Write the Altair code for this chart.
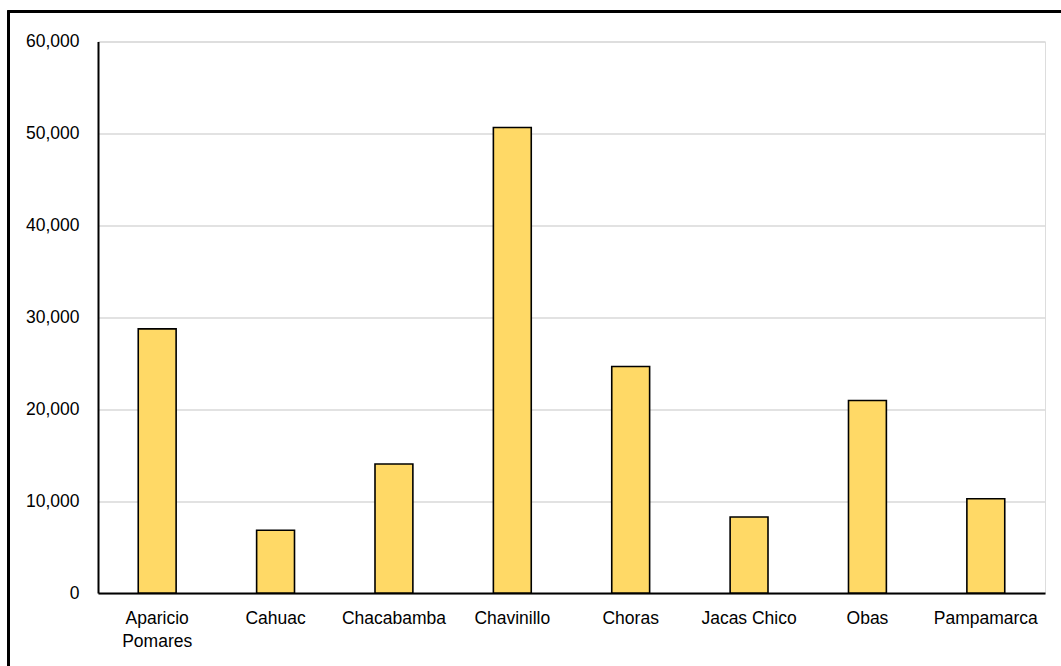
import altair as alt
import pandas as pd

# District populations
districts = ["Aparicio Pomares", "Cahuac", "Chacabamba", "Chavinillo",
             "Choras", "Jacas Chico", "Obas", "Pampamarca"]
population = [28740, 6820, 14030, 50650, 24640, 8270, 20940, 10250]

df = pd.DataFrame({"distrito": districts, "poblacion": population})

FONT = "Liberation Sans, Arial, sans-serif"

bars = alt.Chart(df).mark_bar(
    color="#FFD966", stroke="#000000", strokeWidth=1.6
).encode(
    x=alt.X("distrito:N", sort=districts, title=None,
            scale=alt.Scale(paddingInner=0.68, paddingOuter=0.34),
            axis=alt.Axis(labelAngle=0, ticks=False, domainColor="#000000",
                          domainWidth=2, labelPadding=16, labelFontSize=17.5,
                          labelLineHeight=23, labelFont=FONT, labelColor="#000000",
                          labelExpr="datum.value == 'Aparicio Pomares' ? ['Aparicio', 'Pomares'] : datum.value")),
    y=alt.Y("poblacion:Q", title=None,
            scale=alt.Scale(domain=[0, 60000], nice=False),
            axis=alt.Axis(values=[0, 10000, 20000, 30000, 40000, 50000, 60000],
                          format=",.0f", ticks=False, domainColor="#000000",
                          domainWidth=2, gridColor="#D9D9D9", gridWidth=1.5,
                          labelPadding=19, labelFontSize=17.5, labelFont=FONT,
                          labelColor="#000000")),
)

# Outer frame around the whole figure
frame = alt.Chart(df).mark_rect(
    fill=None, stroke="#000000", strokeWidth=2
).encode(
    x=alt.value(-89.5), x2=alt.value(980),
    y=alt.value(-30), y2=alt.value(650),
)

chart = alt.layer(bars, frame).properties(
    width=947, height=551.5,
    autosize=alt.AutoSizeParams(type="none"),
    padding={"left": 98, "top": 41.5, "right": 16, "bottom": 73},
).configure_view(stroke=None).configure(background="#FFFFFF")

chart.save("out.html", embed_options={"renderer": "svg", "actions": False})
